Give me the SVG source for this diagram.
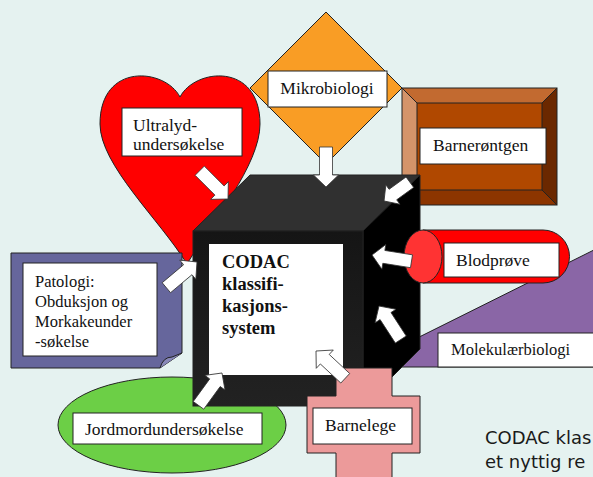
<svg xmlns="http://www.w3.org/2000/svg" xmlns:xlink="http://www.w3.org/1999/xlink" width="593" height="477" viewBox="0 0 593 477">
<style>
.lbl{fill:#fff;stroke:#222;stroke-width:1}
.t{font-family:"Liberation Serif","Times New Roman",serif;font-size:17.5px;fill:#111}
.tb{font-family:"Liberation Serif","Times New Roman",serif;font-size:18.5px;font-weight:bold;fill:#111}
.ol{stroke:#222;stroke-width:1}
.arrow{fill:#fff;stroke:#333;stroke-width:0.8}
.cap{font-family:"DejaVu Sans","Noto Sans",sans-serif;font-size:18px;fill:#1a1a1a}
</style>
<defs>
<path id="arr" d="M-40,-6.5 H-12 V-12.5 L0,0 L-12,12.5 V6.5 H-40 Z"/>
<path id="arrS" d="M-32,-6.5 H-11 V-12 L0,0 L-11,12 V6.5 H-32 Z"/>
<linearGradient id="front" x1="0" y1="0" x2="0" y2="1">
<stop offset="0" stop-color="#151515"/>
<stop offset="1" stop-color="#222"/>
</linearGradient>
</defs>
<rect width="593" height="477" fill="#e5f2f0"/>

<g id="molekylaer">
<polygon points="359,367 620,237 620,367" fill="#8a66a6" class="ol"/>
<rect x="438" y="333" width="170" height="34" class="lbl"/>
<text x="451" y="355" class="t" style="font-size:16.5px">Molekulærbiologi</text>
</g>

<g id="ultralyd">
<path d="M180,97 C165,68 100,62 100,124 C100,165 160,220 187,264 C212,222 260,165 260,124 C260,62 195,68 180,97 Z" fill="#ff0000" class="ol"/>
<rect x="122" y="108" width="120" height="48" class="lbl"/>
<text x="133" y="131" class="t">Ultralyd-</text>
<text x="133" y="150" class="t">undersøkelse</text>
</g>

<g id="mikrobiologi">
<polygon points="326,12 402,88 326,164 250,88" fill="#f99d25" class="ol"/>
<rect x="268" y="71" width="119" height="36" class="lbl"/>
<text x="327" y="94" class="t" text-anchor="middle">Mikrobiologi</text>
</g>

<g id="barnerontgen">
<polygon points="402,88 557,88 542,103 417,103" fill="#c26a30"/>
<polygon points="402,88 417,103 417,190 402,205" fill="#d4946a"/>
<polygon points="557,88 557,205 542,190 542,103" fill="#6b2800"/>
<polygon points="402,205 417,190 542,190 557,205" fill="#8c3500"/>
<rect x="417" y="103" width="125" height="87" fill="#b04800" class="ol"/>
<rect x="402" y="88" width="155" height="117" fill="none" class="ol"/>
<path d="M402,88 L417,103 M557,88 L542,103 M557,205 L542,190 M402,205 L417,190" class="ol"/>
<rect x="420" y="128" width="126" height="36" class="lbl"/>
<text x="433" y="151" class="t">Barnerøntgen</text>
</g>

<g id="patologi">
<path d="M11,253 H182 V353 L160,368 H11 Z" fill="#66669c" class="ol"/>
<path d="M160,368 Q163,357 172,357 L182,353" fill="#8888b8" class="ol"/>
<rect x="23" y="263" width="134" height="93" class="lbl"/>
<text x="35" y="287" class="t" style="font-size:16.5px">Patologi:</text>
<text x="35" y="307" class="t" style="font-size:16.5px">Obduksjon og</text>
<text x="35" y="327" class="t" style="font-size:16.5px">Morkakeunder</text>
<text x="35" y="347" class="t" style="font-size:16.5px">-søkelse</text>
</g>

<g id="jordmor">
<ellipse cx="172" cy="425" rx="114" ry="48" fill="#6ccf46" class="ol"/>
<rect x="73" y="413" width="189" height="31" class="lbl"/>
<text x="85" y="435" class="t">Jordmordundersøkelse</text>
</g>

<g id="codac">
<polygon points="193,231 250,175 420,175 363,231" fill="#303030" class="ol"/>
<polygon points="363,231 420,175 420,349 363,406" fill="#000" class="ol"/>
<rect x="193" y="231" width="170" height="175" fill="url(#front)" class="ol"/>
<rect x="209" y="244" width="134" height="131" fill="#fff"/>
<text x="222" y="268" class="tb">CODAC</text>
<text x="222" y="290" class="tb">klassifi-</text>
<text x="222" y="312" class="tb">kasjons-</text>
<text x="222" y="334" class="tb">system</text>
</g>

<g id="blodprove">
<path d="M423,230 H543 A26.5,26.5 0 0 1 543,283 H423 Z" fill="#ff0000" class="ol"/>
<ellipse cx="423" cy="256.5" rx="19" ry="26.5" fill="#ff3333" class="ol"/>
<rect x="444" y="243" width="115" height="34" class="lbl"/>
<text x="456" y="266" class="t">Blodprøve</text>
</g>

<g id="barnelege">
<path d="M336,368 H392 V396 H420 V453 H392 V480 H336 V453 H307 V396 H336 Z" fill="#ec9a9a" class="ol"/>
<rect x="313" y="408" width="99" height="36" class="lbl"/>
<text x="325" y="431" class="t">Barnelege</text>
</g>

<g id="connectors" class="arrow">
<use xlink:href="#arr" transform="translate(326,187) rotate(90)"/>
<use xlink:href="#arr" transform="translate(228,199) rotate(45)"/>
<use xlink:href="#arrS" transform="translate(384,201) rotate(144)"/>
<use xlink:href="#arr" transform="translate(372,255) rotate(189)"/>
<use xlink:href="#arr" transform="translate(379,306) rotate(237)"/>
<use xlink:href="#arr" transform="translate(316,351) rotate(223)"/>
<use xlink:href="#arr" transform="translate(222,373) rotate(-54)"/>
<use xlink:href="#arr" transform="translate(197,262) rotate(-40)"/>
</g>

<g id="caption">
<text x="485" y="444" class="cap">CODAC klas</text>
<text x="485" y="468" class="cap">et nyttig re</text>
</g>
</svg>
